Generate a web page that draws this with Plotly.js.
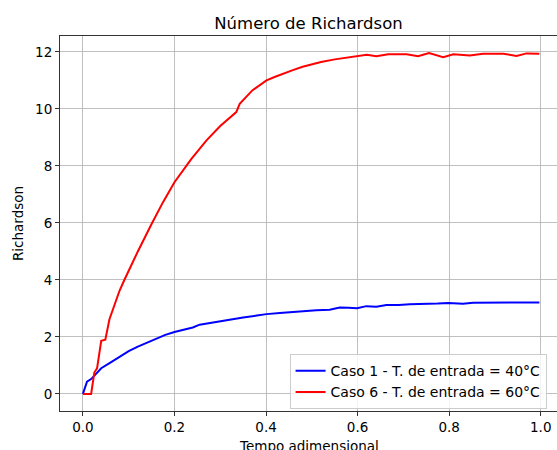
<!DOCTYPE html>
<html>
<head>
<meta charset="utf-8">
<script src="https://cdn.plot.ly/plotly-3.0.1.min.js"></script>
<style>
  html, body { margin: 0; padding: 0; background: #ffffff; }
  #chart { width: 557px; height: 450px; }
</style>
</head>
<body>
<div id="chart"></div>
<script>
// Caso 1 - entrada a 40 °C
const tempoCaso1 = [0, 0.009, 0.018, 0.03, 0.04, 0.06, 0.08, 0.1, 0.12, 0.14, 0.16, 0.18, 0.2, 0.22, 0.24, 0.255, 0.28, 0.3, 0.321, 0.35, 0.38, 0.401, 0.43, 0.46, 0.481, 0.51, 0.539, 0.561, 0.58, 0.599, 0.619, 0.641, 0.663, 0.69, 0.714, 0.75, 0.775, 0.798, 0.83, 0.852, 0.88, 0.918, 0.947, 0.97, 0.997];
const richCaso1 = [0, 0.43, 0.52, 0.72, 0.9, 1.1, 1.3, 1.5, 1.66, 1.8, 1.94, 2.07, 2.17, 2.25, 2.33, 2.43, 2.5, 2.56, 2.62, 2.68, 2.75, 2.8, 2.84, 2.88, 2.92, 2.94, 2.95, 3.03, 3.02, 3.01, 3.08, 3.06, 3.12, 3.12, 3.15, 3.15, 3.17, 3.19, 3.16, 3.2, 3.2, 3.21, 3.19, 3.21, 3.21];

// Caso 6 - entrada a 60 °C
const tempoCaso6 = [0, 0.018, 0.025, 0.031, 0.04, 0.049, 0.058, 0.07, 0.08, 0.09, 0.1, 0.12, 0.15, 0.175, 0.2, 0.237, 0.27, 0.3, 0.335, 0.3425, 0.37, 0.401, 0.42, 0.44, 0.46, 0.48, 0.5, 0.52, 0.55, 0.58, 0.6, 0.62, 0.641, 0.667, 0.707, 0.732, 0.756, 0.787, 0.809, 0.845, 0.874, 0.918, 0.947, 0.969, 0.997];
const richCaso6 = [0, 0, 0.75, 0.9, 1.86, 1.9, 2.62, 3.2, 3.62, 3.98, 4.33, 5.0, 5.96, 6.73, 7.43, 8.25, 8.9, 9.4, 9.89, 10.18, 10.65, 11.0, 11.13, 11.26, 11.37, 11.48, 11.57, 11.65, 11.74, 11.81, 11.86, 11.9, 11.85, 11.92, 11.92, 11.85, 11.96, 11.82, 11.92, 11.88, 11.94, 11.94, 11.86, 11.95, 11.94];

const nomeCaso1 = 'Caso 1 - T. de entrada = 40°C';
const nomeCaso6 = 'Caso 6 - T. de entrada = 60°C';

const xTicks = [0, 0.2, 0.4, 0.6, 0.8, 1.0];
const xTickLabels = ['0.0', '0.2', '0.4', '0.6', '0.8', '1.0'];
const yTicks = [0, 2, 4, 6, 8, 10, 12];

const FONT = 'DejaVu Sans, Liberation Sans, sans-serif';

const traces = [
  {
    x: tempoCaso1, y: richCaso1, name: nomeCaso1,
    type: 'scatter', mode: 'lines',
    line: { color: '#0000ff', width: 2 }
  },
  {
    x: tempoCaso6, y: richCaso6, name: nomeCaso6,
    type: 'scatter', mode: 'lines',
    line: { color: '#ff0000', width: 2 }
  }
];

const layout = {
  width: 557,
  height: 450,
  margin: { l: 60, r: 0, t: 36, b: 39, pad: 0 },
  paper_bgcolor: '#ffffff',
  plot_bgcolor: '#ffffff',
  font: { family: FONT, size: 13.5, color: '#000000' },
  showlegend: true,
  title: {
    text: 'Número de Richardson',
    font: { family: FONT, size: 16.5, color: '#000000' },
    x: 0.5, xref: 'paper', xanchor: 'center',
    y: 1, yref: 'paper', yanchor: 'bottom',
    pad: { b: 7 }
  },
  xaxis: {
    range: [-0.05, 1.0355],
    tickvals: xTicks,
    ticktext: xTickLabels,
    ticks: 'outside', ticklen: 4, tickwidth: 0.8, tickcolor: '#000000',
    showgrid: true, gridcolor: '#b0b0b0', gridwidth: 0.8,
    zeroline: false,
    showline: true, linecolor: '#333333', linewidth: 1, mirror: true,
    tickfont: { family: FONT, size: 13.5, color: '#000000' },
    automargin: false
  },
  yaxis: {
    range: [-0.6, 12.56],
    tickvals: yTicks,
    ticks: 'outside', ticklen: 4, tickwidth: 0.8, tickcolor: '#000000',
    showgrid: true, gridcolor: '#b0b0b0', gridwidth: 0.8,
    zeroline: false,
    showline: true, linecolor: '#333333', linewidth: 1, mirror: false,
    tickfont: { family: FONT, size: 13.5, color: '#000000' },
    automargin: false,
    title: {
      text: 'Richardson',
      font: { family: FONT, size: 13.5, color: '#000000' },
      standoff: 8
    }
  },
  // x-axis label sits low under the tick labels, partly below the page edge
  annotations: [
    {
      text: 'Tempo adimensional',
      xref: 'paper', yref: 'paper',
      x: 0.5, y: -0.067,
      xanchor: 'center', yanchor: 'top',
      showarrow: false,
      font: { family: FONT, size: 13.5, color: '#000000' }
    }
  ],
  legend: {
    x: 0.979, y: 0.005, xanchor: 'right', yanchor: 'bottom',
    bgcolor: 'rgba(255,255,255,0.8)',
    bordercolor: '#cccccc', borderwidth: 1,
    font: { family: FONT, size: 14, color: '#000000' },
    itemwidth: 30,
    tracegroupgap: 0
  }
};

Plotly.newPlot('chart', traces, layout, { displayModeBar: false, staticPlot: true });
</script>
</body>
</html>
